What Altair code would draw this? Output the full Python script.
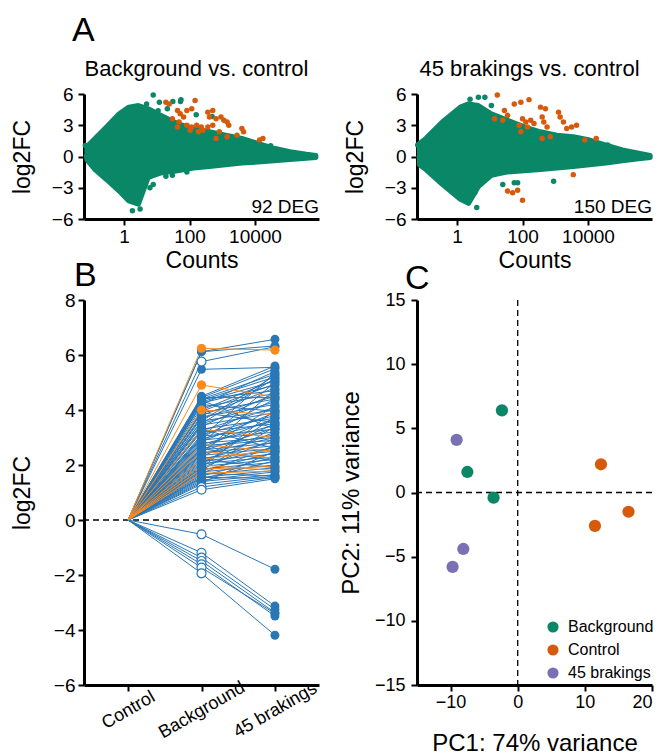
import altair as alt
import pandas as pd

FONT = "Liberation Sans"
GREEN = "#0A8767"
ORANGE = "#D65A0C"
PURPLE = "#7A70B6"
BLUE = "#2A77B6"
ORANGE_B = "#FF8A1A"
W = 235

# ---------------- Panel A (MA plots) ----------------
# dense cloud envelope (counts, upper log2FC, lower log2FC)
ma1_env_x = [0.074, 0.13, 0.29, 0.71, 1.4, 2.75, 5.5, 13.5, 43, 132, 407, 1260, 3980, 12300, 38000, 117000, 372000, 724000]
ma1_env_hi = [0.95, 1.74, 2.84, 4.10, 4.74, 4.89, 4.58, 3.95, 3.16, 2.68, 2.37, 2.05, 1.74, 1.26, 0.79, 0.47, 0.22, 0.10]
ma1_env_lo = [-0.32, -1.26, -2.21, -3.32, -4.26, -4.58, -2.0, -1.58, -1.36, -1.10, -0.95, -0.79, -0.63, -0.54, -0.41, -0.28, -0.16, -0.10]
ma1_out_x = [0.066, 0.071, 7.8, 4.9, 12, 53, 11, 21, 30000, 6.2, 7.8, 19, 30, 83, 1.8, 3.1, 55, 31, 490, 160]
ma1_out_y = [1.06, 0.0, 5.9, 5.05, 5.2, 5.27, 4.4, 4.58, 1.04, -3.0, -2.68, -1.89, -1.8, -1.48, -5.2, -5.05, 5.44, 5.28, 3.84, 4.0]
ma1_deg_x = [19, 24, 43, 148, 52, 83, 117, 66, 30, 48, 43, 83, 117, 166, 229, 105, 186, 257, 363, 513, 407, 646, 912, 1120, 1410, 1580, 513, 813, 1410, 3980, 4470, 646, 17400, 13800, 2820, 363]
ma1_deg_y = [5.21, 5.05, 4.42, 5.37, 4.10, 4.42, 4.58, 3.79, 3.63, 3.32, 2.84, 3.00, 2.84, 3.00, 2.84, 2.53, 2.37, 2.53, 4.26, 4.42, 3.79, 3.63, 3.79, 3.47, 3.32, 3.00, 3.00, 2.37, 1.89, 2.68, 2.37, 1.74, 1.74, 1.58, 2.05, 2.84]

ma2_env_x = [0.071, 0.112, 0.355, 1.26, 2.24, 4.47, 11.2, 35.5, 112, 355, 1120, 3550, 11200, 35500, 112000, 355000, 794000]
ma2_env_hi = [1.26, 1.74, 3.32, 4.74, 5.05, 4.89, 4.10, 3.47, 2.84, 2.37, 2.05, 1.89, 1.58, 1.10, 0.63, 0.32, 0.10]
ma2_env_lo = [-0.79, -1.26, -2.68, -4.1, -4.5, -2.9, -1.8, -1.48, -1.36, -1.26, -1.10, -0.95, -0.79, -0.63, -0.41, -0.22, -0.10]
ma2_out_x = [2.5, 4.5, 7.1, 11.2, 891, 56, 3.5, 2.5, 4.0, 0.071, 0.063, 25, 71, 40000]
ma2_out_y = [5.5, 5.68, 5.68, 4.9, -2.37, -2.53, -3.47, -4.1, -4.9, 0.0, 1.1, -2.68, -2.53, 1.1]
ma2_deg_x = [17, 56, 89, 158, 28, 35, 14, 25, 100, 126, 178, 224, 141, 79, 355, 501, 398, 447, 562, 1260, 1410, 1780, 2240, 3160, 4470, 89, 398, 708, 7940, 17800, 3550, 35, 50, 71, 100]
ma2_deg_y = [5.9, 5.05, 5.21, 5.46, 4.42, 3.95, 3.63, 3.47, 3.63, 3.32, 3.47, 3.16, 2.84, 3.0, 4.74, 4.58, 3.79, 3.32, 2.84, 4.26, 3.79, 3.32, 2.68, 2.84, 3.0, 2.37, 1.74, 1.89, 1.58, 1.74, -1.74, -3.32, -3.47, -3.25, -4.2]

# ---------------- Panel B (paired log2FC) ----------------
cond_order = ["Control", "Background", "45 brakings"]
blue_bg = [6.12, 6.12, 5.48, 4.5, 4.45, 4.4, 4.35, 4.3, 4.25, 4.4, 4.2, 4.1, 4.0, 3.95, 3.9, 3.8, 3.75, 3.7, 3.6, 3.5,
           3.45, 3.4, 3.3, 3.25, 3.2, 3.1, 3.05, 3.0, 2.95, 2.9, 2.85, 2.8, 2.75, 2.7, 2.65, 2.6, 2.55, 2.5, 2.45, 2.4,
           2.35, 2.3, 2.25, 2.2, 2.15, 2.1, 2.05, 2.0, 1.95, 1.9, 1.85, 1.8, 1.75, 1.7, 1.65, 1.6, 1.55, 1.5, 1.45, 1.4,
           1.35, 1.3, 1.55, 1.7, 2.8, 2.4, 3.6, 2.0, 1.8, 3.9, 4.2, 3.3, 2.6, 2.2, 4.45, 4.35, 3.0, 3.5, 2.5, 1.9]
blue_45 = [6.57, 6.33, 5.55, 5.6, 5.5, 5.3, 5.2, 5.05, 4.9, 4.7, 5.4, 4.6, 5.1, 4.95, 4.4, 4.8, 4.2, 4.5, 4.0, 4.3,
           3.9, 4.6, 3.7, 4.1, 3.5, 3.8, 3.3, 4.4, 3.6, 3.2, 3.9, 3.0, 3.45, 2.9, 3.7, 3.1, 2.8, 3.35, 2.7, 3.0,
           2.6, 3.5, 2.5, 2.85, 2.4, 3.2, 2.3, 2.65, 2.2, 2.95, 2.1, 2.45, 2.0, 2.7, 1.9, 2.3, 1.8, 2.15, 1.75, 1.65,
           2.5, 1.6, 1.52, 1.6, 5.0, 4.75, 5.25, 3.75, 3.4, 3.55, 3.95, 2.6, 2.15, 1.9, 4.45, 3.3, 5.35, 5.15, 4.15, 4.0]
blue_ns_bg = [5.76, 1.2, 1.1]
blue_ns_45 = [6.30, 1.55, 1.5]
orange_bg = [6.24, 4.91, 4.0, 2.75, 2.5, 2.2, 2.0, 1.85, 1.7, 3.3]
orange_45 = [6.18, 4.48, 3.83, 2.5, 2.25, 2.55, 1.8, 1.95, 1.78, 3.0]
down_bg = [-0.52, -1.19, -1.37, -1.49, -1.61, -1.73, -1.94]
down_45 = [-1.79, -3.13, -3.25, -3.37, -3.49, -3.40, -4.19]

# ---------------- Panel C (PCA) ----------------
pc_group = ["Background", "Background", "Background", "Control", "Control", "Control",
            "45 brakings", "45 brakings", "45 brakings"]
pc1 = [-2.35, -7.5, -3.6, 12.4, 16.5, 11.5, -9.1, -8.1, -9.7]
pc2 = [6.4, 1.6, -0.4, 2.2, -1.5, -2.6, 4.1, -4.4, -5.8]


def letter(ch, dx, dy):
    return alt.Chart(pd.DataFrame({"t": [ch]})).mark_text(
        align="left", baseline="top", fontSize=34, font=FONT, color="black"
    ).encode(text="t:N", x=alt.value(dx), y=alt.value(dy))


def ma_panel(env_x, env_hi, env_lo, out_x, out_y, deg_x, deg_y, title, deg_label):
    xs = alt.Scale(type="log", domain=[0.06, 900000])
    ys = alt.Scale(domain=[-6, 6], nice=False)
    xax = alt.Axis(values=[1, 100, 10000], format="d", title="Counts", labelFontSize=19,
                   titleFontSize=23, titlePadding=3, labelPadding=2, labelFlush=False)
    yax = alt.Axis(values=[-6, -3, 0, 3, 6], title="log2FC", labelFontSize=19,
                   titleFontSize=23, titlePadding=17, labelPadding=5)
    env = pd.DataFrame({"count": env_x, "hi": env_hi, "lo": env_lo})
    area = alt.Chart(env).mark_area(color=GREEN, opacity=1, stroke=GREEN, strokeWidth=5,
                                    strokeJoin="round").encode(
        x=alt.X("count:Q", scale=xs, axis=xax),
        y=alt.Y("hi:Q", scale=ys, axis=yax), y2="lo:Q")
    outs = alt.Chart(pd.DataFrame({"count": out_x, "hi": out_y})).mark_circle(
        size=30, color=GREEN, opacity=1).encode(
        x=alt.X("count:Q", scale=xs, axis=xax), y=alt.Y("hi:Q", scale=ys, axis=yax))
    degs = alt.Chart(pd.DataFrame({"count": deg_x, "hi": deg_y})).mark_circle(
        size=30, color=ORANGE, opacity=1).encode(
        x=alt.X("count:Q", scale=xs, axis=xax), y=alt.Y("hi:Q", scale=ys, axis=yax))
    lab = alt.Chart(pd.DataFrame({"t": [deg_label]})).mark_text(
        align="right", baseline="alphabetic", fontSize=19, font=FONT, color="black"
    ).encode(text="t:N", x=alt.value(W), y=alt.value(119))
    return alt.layer(area, outs, degs, lab).properties(
        width=W, height=125,
        title=alt.TitleParams(title, fontSize=22, font=FONT, fontWeight="normal",
                              frame="group", offset=4, dx=-5, color="black"))


def long_lines(bg, b45, prefix):
    rows = []
    for i, (b, f) in enumerate(zip(bg, b45)):
        for step, (c, v) in enumerate(zip(cond_order, [0.0, b, f])):
            rows.append({"id": f"{prefix}{i}", "cond": c, "step": step, "v": v})
    return pd.DataFrame(rows)


bxs = alt.Scale(type="point", domain=cond_order, padding=0.6)
bys = alt.Scale(domain=[-6, 8], nice=False)
bxax = alt.Axis(title=None, labelAngle=-30, labelAlign="center", labelBaseline="middle",
                labelPadding=19, labelFontSize=18)
byax = alt.Axis(values=[-6, -4, -2, 0, 2, 4, 6, 8], title="log2FC", labelFontSize=19,
                titleFontSize=23, titlePadding=19, labelPadding=3)


def bx():
    return alt.X("cond:N", scale=bxs, axis=bxax, sort=cond_order)


def by():
    return alt.Y("v:Q", scale=bys, axis=byax)


df_blue = pd.concat([long_lines(blue_bg, blue_45, "b"), long_lines(blue_ns_bg, blue_ns_45, "n"),
                     long_lines(down_bg, down_45, "d")])
df_orange = long_lines(orange_bg, orange_45, "o")
df_blue_sig_bg = long_lines(blue_bg, blue_45, "b").query("cond == 'Background'")
df_open_bg = pd.concat([long_lines(blue_ns_bg, blue_ns_45, "n"),
                        long_lines(down_bg, down_45, "d")]).query("cond == 'Background'")
df_blue_45 = df_blue.query("cond == '45 brakings'")
df_orange_pts = df_orange.query("cond != 'Control'")
df_orange_top = df_orange.query("(cond == 'Background' and v >= 3.9) or (cond == '45 brakings' and v > 6)")

zero_b = alt.Chart(pd.DataFrame({"v": [0]})).mark_rule(
    color="black", strokeDash=[6, 4], strokeWidth=1.3).encode(y=by())
lines_blue = alt.Chart(df_blue).mark_line(color=BLUE, strokeWidth=1).encode(
    x=bx(), y=by(), detail="id:N", order="step:Q")
lines_orange = alt.Chart(df_orange).mark_line(color=ORANGE_B, strokeWidth=1).encode(
    x=bx(), y=by(), detail="id:N", order="step:Q")
pts_orange = alt.Chart(df_orange_pts).mark_circle(size=80, color=ORANGE_B, opacity=1).encode(x=bx(), y=by())
pts_blue_bg = alt.Chart(df_blue_sig_bg).mark_circle(size=80, color=BLUE, opacity=1).encode(x=bx(), y=by())
pts_blue_45 = alt.Chart(df_blue_45).mark_circle(size=80, color=BLUE, opacity=1).encode(x=bx(), y=by())
pts_orange_top = alt.Chart(df_orange_top).mark_circle(size=80, color=ORANGE_B, opacity=1).encode(x=bx(), y=by())
pts_open = alt.Chart(df_open_bg).mark_point(shape="circle", size=80, filled=True, fill="white",
                                            stroke=BLUE, strokeWidth=1.2, opacity=1).encode(x=bx(), y=by())

panel_b = alt.layer(zero_b, lines_blue, lines_orange, pts_orange, pts_blue_bg, pts_blue_45, pts_orange_top,
                    pts_open, letter("B", -10, -41.5), letter("A", -12, -285.6)).properties(width=W, height=385)

# Panel C
cxs = alt.Scale(domain=[-15, 20], nice=False)
cys = alt.Scale(domain=[-15, 15], nice=False)
cxax = alt.Axis(values=[-10, 0, 10, 20], title="PC1: 74% variance", labelFontSize=18,
                titleFontSize=24, titlePadding=20, labelPadding=2)
cyax = alt.Axis(values=[-15, -10, -5, 0, 5, 10, 15], title="PC2: 11% variance", labelFontSize=18,
                titleFontSize=24, titlePadding=11, labelPadding=6)
df_pc = pd.DataFrame({"group": pc_group, "pc1": pc1, "pc2": pc2})
c_pts = alt.Chart(df_pc).mark_circle(size=150, opacity=1).encode(
    x=alt.X("pc1:Q", scale=cxs, axis=cxax), y=alt.Y("pc2:Q", scale=cys, axis=cyax),
    color=alt.Color("group:N",
                    scale=alt.Scale(domain=["Background", "Control", "45 brakings"],
                                    range=[GREEN, ORANGE, PURPLE]),
                    legend=alt.Legend(title=None, orient="none", legendX=128, legendY=319,
                                      labelFontSize=16, labelFont=FONT, labelColor="black",
                                      symbolSize=125, symbolType="circle", rowPadding=7,
                                      labelOffset=7, padding=0, symbolStrokeWidth=0)))
c_h = alt.Chart(pd.DataFrame({"pc2": [0]})).mark_rule(
    color="black", strokeDash=[6, 4], strokeWidth=1.3).encode(y=alt.Y("pc2:Q", scale=cys, axis=cyax))
c_v = alt.Chart(pd.DataFrame({"pc1": [0]})).mark_rule(
    color="black", strokeDash=[6, 4], strokeWidth=1.3).encode(x=alt.X("pc1:Q", scale=cxs, axis=cxax))
panel_c = alt.layer(c_h, c_v, c_pts, letter("C", -12, -38)).properties(width=W, height=385)

a1 = ma_panel(ma1_env_x, ma1_env_hi, ma1_env_lo, ma1_out_x, ma1_out_y, ma1_deg_x, ma1_deg_y,
              "Background vs. control", "92 DEG")
a2 = ma_panel(ma2_env_x, ma2_env_hi, ma2_env_lo, ma2_out_x, ma2_out_y, ma2_deg_x, ma2_deg_y,
              "45 brakings vs. control", "150 DEG")

chart = alt.concat(a1, a2, panel_b, panel_c, columns=2, spacing={"row": 81, "column": 98},
                   bounds="flush").resolve_scale(color="independent").properties(
    padding={"left": 3, "top": 6, "right": 0, "bottom": 0}).configure_view(
    stroke=None).configure_axis(
    domainColor="black", domainWidth=3, tickColor="black", tickWidth=2, tickSize=6,
    labelColor="black", titleColor="black", labelFont=FONT, titleFont=FONT,
    titleFontWeight="normal", grid=False)

chart.save("out.html", embed_options={"renderer": "svg", "actions": False})
